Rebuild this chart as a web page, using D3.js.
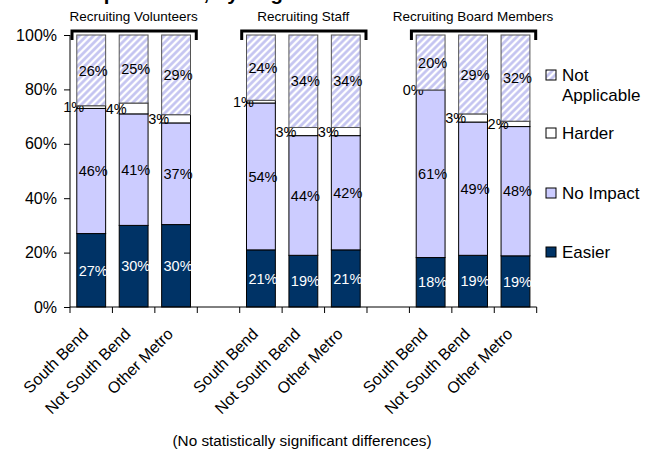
<!DOCTYPE html>
<html>
<head>
<meta charset="utf-8">
<script src="https://cdn.jsdelivr.net/npm/d3@7"></script>
<style>
  body { margin: 0; background: #fff; }
  text { font-family: "Liberation Sans", Arial, sans-serif; }
</style>
</head>
<body>
<svg id="chart" width="660" height="453"></svg>
<script>
// groups and regions
const groups = ["Recruiting Volunteers", "Recruiting Staff", "Recruiting Board Members"];
const regions = ["South Bend", "Not South Bend", "Other Metro"];
const seriesNames = ["Easier", "No Impact", "Harder", "Not Applicable"];

// percent values per group, one row per region
const easier = [[27, 30, 30], [21, 19, 21], [18, 19, 19]];
const noImpact = [[46, 41, 37], [54, 44, 42], [61, 49, 48]];
const harder = [[1, 4, 3], [1, 3, 3], [0, 3, 2]];
const notApplicable = [[26, 25, 29], [24, 34, 34], [20, 29, 32]];

const yTicks = [0, 0.2, 0.4, 0.6, 0.8, 1];
const note = "(No statistically significant differences)";

const svg = d3.select("#chart");

// hatch for "Not Applicable"
const defs = svg.append("defs");
defs.append("pattern")
    .attr("id", "hatch")
    .attr("patternUnits", "userSpaceOnUse")
    .attr("width", 5)
    .attr("height", 5)
    .attr("patternTransform", "rotate(45)")
    .call(p => {
        p.append("rect").attr("width", 5).attr("height", 5).attr("fill", "#fff");
        p.append("line")
            .attr("x1", 1.5).attr("y1", 0).attr("x2", 1.5).attr("y2", 5)
            .attr("stroke", "#c2c2f0").attr("stroke-width", 2.6);
    });

const color = d3.scaleOrdinal()
    .domain(seriesNames)
    .range(["#003366", "#ccccff", "#ffffff", "url(#hatch)"]);

// 11 slots: 3 bars, gap, 3 bars, gap, 3 bars
const slots = [];
groups.forEach((g, gi) => {
    regions.forEach((r, ri) => slots.push(gi + "-" + ri));
    if (gi < groups.length - 1) slots.push("gap" + gi);
});

const x = d3.scaleBand()
    .domain(slots)
    .range([70, 536.7])
    .paddingInner(0.32)
    .paddingOuter(0.16);

const y = d3.scaleLinear().domain([0, 1]).range([307, 35]);

// flat rows
const rows = [];
groups.forEach((g, gi) => {
    regions.forEach((r, ri) => {
        const vals = [easier[gi][ri], noImpact[gi][ri], harder[gi][ri], notApplicable[gi][ri]];
        rows.push({
            key: gi + "-" + ri,
            region: r,
            "Easier": vals[0], "No Impact": vals[1], "Harder": vals[2], "Not Applicable": vals[3],
            total: d3.sum(vals)
        });
    });
});

const stack = d3.stack()
    .keys(seriesNames)
    .value((d, k) => d[k] / d.total);
const stacked = stack(rows);

// title, mostly off the top edge as in the source
svg.append("text")
    .attr("x", 80)
    .attr("y", 0)
    .attr("font-size", 20.4)
    .attr("font-weight", "bold")
    .text("Impact Level, by Region");

// bars
const layers = svg.append("g").selectAll("g")
    .data(stacked)
    .join("g")
    .attr("fill", d => color(d.key));

layers.selectAll("rect")
    .data(d => d.map(v => Object.assign(v, { series: d.key })))
    .join("rect")
    .attr("x", d => x(d.data.key))
    .attr("y", d => y(d[1]))
    .attr("width", x.bandwidth())
    .attr("height", d => y(d[0]) - y(d[1]))
    .attr("stroke", d => d.series === "Not Applicable" ? "#555" : "#000")
    .attr("stroke-width", 1);

// value labels
layers.selectAll("text")
    .data(d => d)
    .join("text")
    .attr("x", d => d.series === "Harder"
        ? x(d.data.key) - 3
        : x(d.data.key) + x.bandwidth() / 2 + 2)
    .attr("y", d => (y(d[0]) + y(d[1])) / 2)
    .attr("dy", "0.36em")
    .attr("text-anchor", "middle")
    .attr("font-size", 14.5)
    .attr("fill", d => d.series === "Easier" ? "#fff" : "#000")
    .attr("stroke", "none")
    .text(d => d.data[d.series] + "%");

// y axis
const yAxis = svg.append("g")
    .attr("transform", "translate(70,0)")
    .call(d3.axisLeft(y).tickValues(yTicks).tickFormat(d3.format(".0%")).tickSize(6).tickPadding(7));
yAxis.select(".domain").attr("stroke", "#000").attr("d", "M0," + y(1) + "V" + y(0));
yAxis.selectAll(".tick line").attr("stroke", "#000");
yAxis.selectAll(".tick text").attr("font-size", 16).attr("fill", "#000")
    .style("font-family", "'Liberation Sans', Arial, sans-serif");

// x axis line with ticks at slot edges
const step = x.step();
const x0 = x.range()[0];
const xa = svg.append("g");
xa.append("line")
    .attr("x1", x0).attr("x2", x.range()[1])
    .attr("y1", y(0)).attr("y2", y(0))
    .attr("stroke", "#000");
xa.selectAll(".xt")
    .data(d3.range(slots.length + 1))
    .join("line")
    .attr("class", "xt")
    .attr("x1", i => x0 + i * step).attr("x2", i => x0 + i * step)
    .attr("y1", y(0)).attr("y2", y(0) + 6)
    .attr("stroke", "#000");

// category labels, rotated
svg.append("g").selectAll("text")
    .data(rows)
    .join("text")
    .attr("transform", d => "translate(" + (x(d.key) + x.bandwidth() / 2 - 2) + ",335) rotate(-45)")
    .attr("text-anchor", "end")
    .attr("font-size", 16)
    .text(d => d.region);

// group headers with brackets
const hdr = svg.append("g").selectAll("g")
    .data(groups)
    .join("g");
hdr.append("path")
    .attr("d", (d, i) => {
        const a = x0 + i * 4 * step + 2;
        const b = x0 + (i * 4 + 3) * step - 1;
        return "M" + a + ",40V31H" + b + "V40";
    })
    .attr("fill", "none")
    .attr("stroke", "#000")
    .attr("stroke-width", 3);
hdr.append("text")
    .attr("x", (d, i) => x0 + (i * 4 + 1.5) * step)
    .attr("y", 21)
    .attr("text-anchor", "middle")
    .attr("font-size", 13.5)
    .text(d => d);

// legend
const legendItems = [
    { key: "Not Applicable", lines: ["Not", "Applicable"], y: 75 },
    { key: "Harder", lines: ["Harder"], y: 133 },
    { key: "No Impact", lines: ["No Impact"], y: 193 },
    { key: "Easier", lines: ["Easier"], y: 252 }
];
const lg = svg.append("g").selectAll("g")
    .data(legendItems)
    .join("g")
    .attr("transform", d => "translate(546," + d.y + ")");
lg.append("rect")
    .attr("x", 0).attr("y", -5)
    .attr("width", 10).attr("height", 10)
    .attr("fill", d => color(d.key))
    .attr("stroke", "#000");
lg.append("text")
    .attr("x", 16)
    .attr("font-size", 17)
    .selectAll("tspan")
    .data(d => d.lines)
    .join("tspan")
    .attr("x", 16)
    .attr("y", (d, i) => i * 20)
    .attr("dy", "0.36em")
    .text(d => d);

svg.append("text")
    .attr("x", 302)
    .attr("y", 446)
    .attr("text-anchor", "middle")
    .attr("font-size", 15.3)
    .text(note);
</script>
</body>
</html>
